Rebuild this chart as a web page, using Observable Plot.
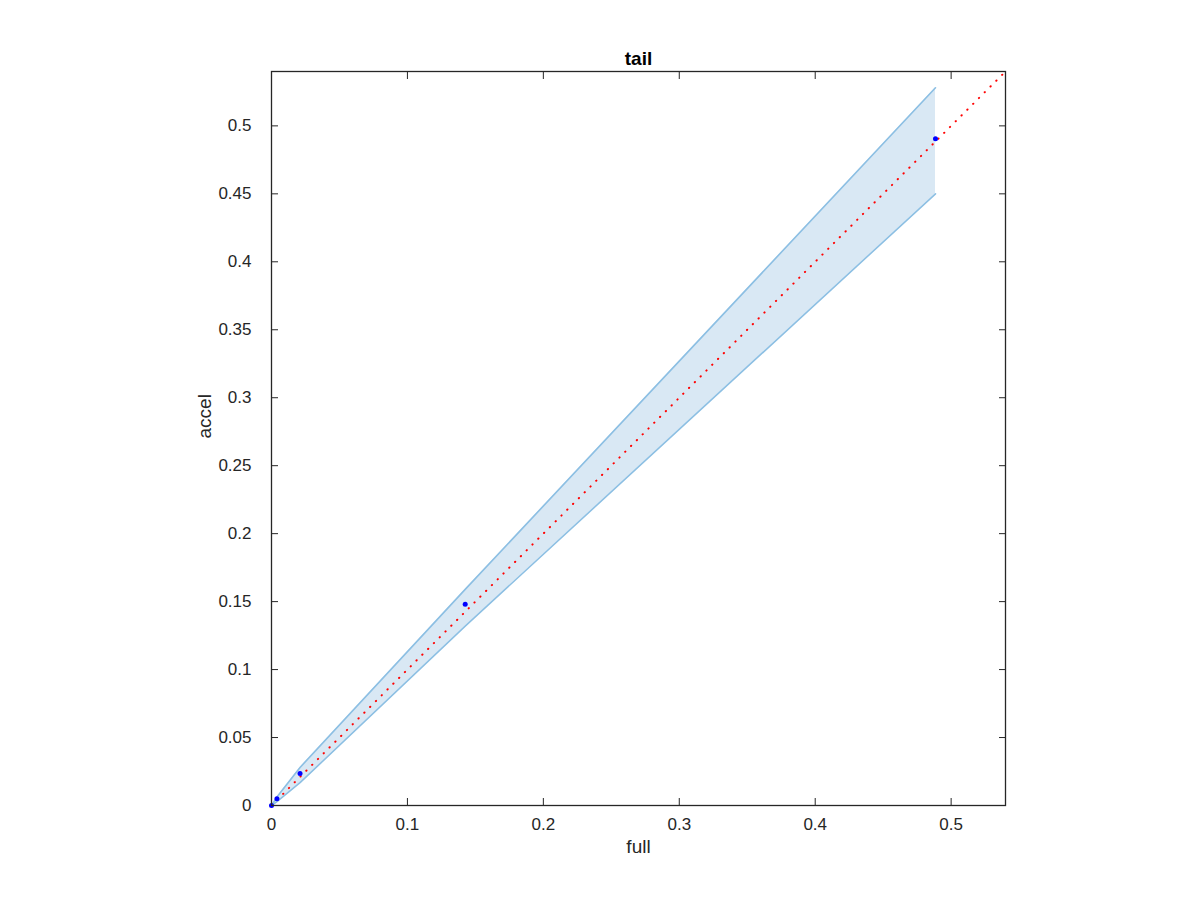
<!DOCTYPE html>
<html>
<head>
<meta charset="utf-8">
<script src="https://cdn.jsdelivr.net/npm/d3@7"></script>
<script src="https://cdn.jsdelivr.net/npm/@observablehq/plot@0.6"></script>
<style>
  html, body { margin: 0; padding: 0; background: #fff; }
</style>
</head>
<body>
<div id="chart"></div>
<script>
const title = "tail";
const xLabel = "full";
const yLabel = "accel";

// data points
const fullVals  = [0, 0.004, 0.021, 0.1425, 0.4885];
const accelVals = [0, 0.005, 0.0235, 0.148, 0.4905];

// confidence band
const bandX     = [0, 0.004, 0.021, 0.1425, 0.4885];
const bandUpper = [0, 0.0062, 0.0280, 0.159, 0.528];
const bandLower = [0, 0.0028, 0.0168, 0.132, 0.450];

// reference line y = x
const refLineX = [0, 0.54];
const refLineY = [0, 0.54];

const xTicks = [0, 0.1, 0.2, 0.3, 0.4, 0.5];
const yTicks = [0, 0.05, 0.1, 0.15, 0.2, 0.25, 0.3, 0.35, 0.4, 0.45, 0.5];
const domain = [0, 0.54];

const pts = fullVals.map((x, i) => ({x, y: accelVals[i]}));
const band = bandX.map((x, i) => ({x, lo: bandLower[i], hi: bandUpper[i]}));
const ref = refLineX.map((x, i) => ({x, y: refLineY[i]}));

const axisColor = "#262626";
const fmt = d => String(d);

const chart = Plot.plot({
  width: 1200,
  height: 900,
  marginLeft: 271,
  marginRight: 195,
  marginTop: 71,
  marginBottom: 95,
  style: {fontFamily: "'Liberation Sans', Arial, Helvetica, sans-serif", fontSize: "17px", color: axisColor, background: "#fff"},
  x: {domain, ticks: xTicks},
  y: {domain, ticks: yTicks},
  marks: [
    Plot.areaY(band, {x: "x", y1: "lo", y2: "hi", fill: "#d9e8f4"}),
    Plot.line(band, {x: "x", y: "hi", stroke: "#8cbfe3", strokeWidth: 1.6}),
    Plot.line(band, {x: "x", y: "lo", stroke: "#8cbfe3", strokeWidth: 1.6}),
    Plot.line(ref, {x: "x", y: "y", stroke: "#ff0000", strokeWidth: 2, strokeLinecap: "round", strokeDasharray: "0.3,7.9"}),
    Plot.dot(pts, {x: "x", y: "y", r: 2.5, fill: "#0000ff", stroke: "none"}),
    Plot.axisX(xTicks, {anchor: "bottom", tickSize: -7, tickPadding: 19, tickFormat: fmt, label: null, stroke: axisColor, fill: axisColor, fontSize: 17}),
    Plot.axisX(xTicks, {anchor: "top", tickSize: -7, tickFormat: () => "", label: null, stroke: axisColor}),
    Plot.axisY(yTicks, {anchor: "left", tickSize: -7, tickPadding: 27, tickFormat: fmt, label: null, stroke: axisColor, fill: axisColor, fontSize: 17}),
    Plot.axisY(yTicks, {anchor: "right", tickSize: -7, tickFormat: () => "", label: null, stroke: axisColor}),
    Plot.frame({stroke: axisColor, strokeWidth: 1.3}),
    Plot.text([title], {frameAnchor: "top", dy: -20, fontWeight: "bold", fontSize: 19, fill: "#000"}),
    Plot.text([xLabel], {frameAnchor: "bottom", dy: 47, fontSize: 19, fill: axisColor}),
    Plot.text([yLabel], {frameAnchor: "left", dx: -67, rotate: -90, fontSize: 19, fill: axisColor})
  ]
});
document.getElementById("chart").appendChild(chart);
</script>
</body>
</html>
